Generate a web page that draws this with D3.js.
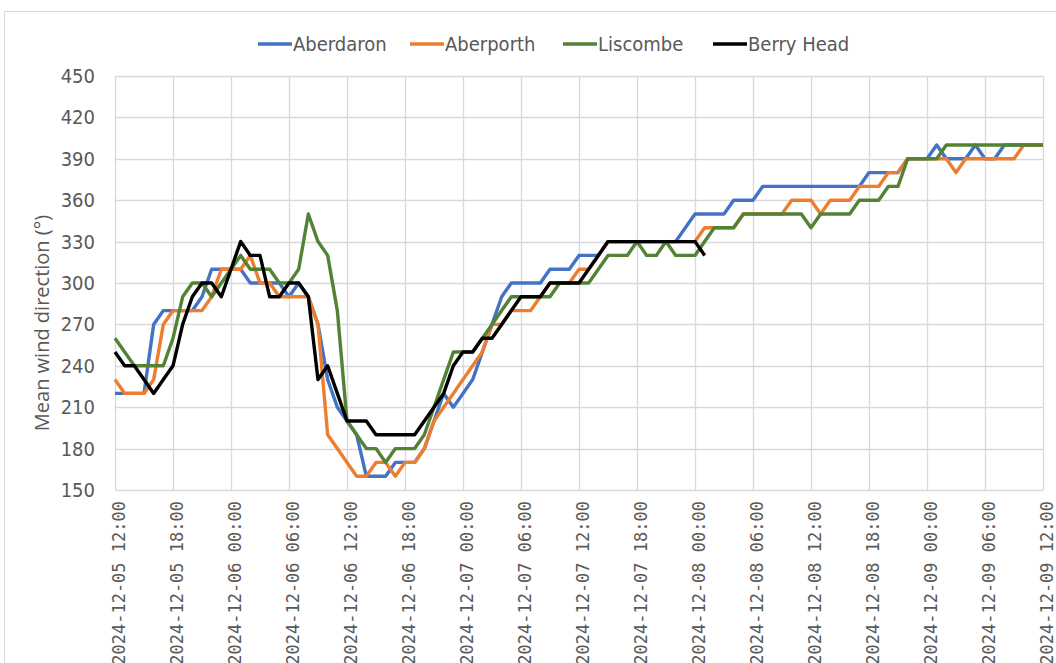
<!DOCTYPE html>
<html>
<head>
<meta charset="utf-8">
<style>
html, body { margin:0; padding:0; background:white; }
svg { display:block; }
.tick text { fill:#595959; }
</style>
</head>
<body>
<div id="chart"></div>
<script src="https://d3js.org/d3.v7.min.js"></script>
<script>
// hourly readings, first one at 2024-12-05 12:00 (UTC)
const startTime = Date.UTC(2024, 11, 5, 12);
const endTime = Date.UTC(2024, 11, 9, 12);

const seriesNames = ["Aberdaron", "Aberporth", "Liscombe", "Berry Head"];
const seriesColors = ["#4472C4", "#ED7D31", "#548235", "#000000"];

const aberdaron = [220,220,220,220,270,280,280,280,280,290,310,310,310,310,300,300,300,300,290,300,
  290,270,230,210,200,190,160,160,160,170,170,170,180,200,220,210,220,230,250,270,
  290,300,300,300,300,310,310,310,320,320,320,330,330,330,330,330,330,330,330,340,
  350,350,350,350,360,360,360,370,370,370,370,370,370,370,370,370,370,370,380,380,
  380,380,390,390,390,400,390,390,390,400,390,390,400,400,400,400,400];
const aberporth = [230,220,220,220,230,270,280,280,280,280,290,310,310,310,320,300,300,290,290,290,
  290,270,190,180,170,160,160,170,170,160,170,170,180,200,210,220,230,240,250,270,
  270,280,280,280,290,300,300,300,310,310,320,330,330,330,330,330,330,330,330,330,
  330,340,340,340,340,350,350,350,350,350,360,360,360,350,360,360,360,370,370,370,
  380,380,390,390,390,390,390,380,390,390,390,390,390,390,400,400,400];
const liscombe = [260,250,240,240,240,240,260,290,300,300,290,300,310,320,310,310,310,300,300,310,
  350,330,320,280,200,190,180,180,170,180,180,180,190,210,230,250,250,250,260,270,
  280,290,290,290,290,290,300,300,300,300,310,320,320,320,330,320,320,330,320,320,
  320,330,340,340,340,350,350,350,350,350,350,350,340,350,350,350,350,360,360,360,
  370,370,390,390,390,390,400,400,400,400,400,400,400,400,400,400,400];
const berryHead = [250,240,240,230,220,230,240,270,290,300,300,290,310,330,320,320,290,290,300,300,
  290,230,240,220,200,200,200,190,190,190,190,190,200,210,220,240,250,250,260,260,
  270,280,290,290,290,300,300,300,300,310,320,330,330,330,330,330,330,330,330,330,
  330,320];

const seriesValues = [aberdaron, aberporth, liscombe, berryHead];
const yTicks = [150,180,210,240,270,300,330,360,390,420,450];

const W = 1056, H = 663;
const plot = {left:115, right:1043, top:76, bottom:490};
const narrow = "'Liberation Sans Narrow','DejaVu Sans Condensed',sans-serif";

const svg = d3.select("#chart").append("svg")
  .attr("width", W).attr("height", H);

// chart area outline
svg.append("rect")
  .attr("x", 4.5).attr("y", 11.5)
  .attr("width", W + 20).attr("height", H + 20)
  .attr("fill", "white").attr("stroke", "#d9d9d9");

const x = d3.scaleUtc().domain([startTime, endTime]).range([plot.left, plot.right]);
const y = d3.scaleLinear().domain([150, 450]).range([plot.bottom, plot.top]);
const xTicks = d3.utcHour.every(6).range(new Date(startTime), new Date(endTime + 1));

// gridlines
svg.append("g")
  .selectAll("line.h").data(yTicks).join("line")
  .attr("x1", plot.left).attr("x2", plot.right)
  .attr("y1", d => Math.round(y(d)) + 0.5).attr("y2", d => Math.round(y(d)) + 0.5)
  .attr("stroke", "#d9d9d9").attr("stroke-width", 1.3);
svg.append("g")
  .selectAll("line.v").data(xTicks).join("line")
  .attr("x1", d => Math.round(x(d)) + 0.5).attr("x2", d => Math.round(x(d)) + 0.5)
  .attr("y1", plot.top).attr("y2", plot.bottom)
  .attr("stroke", "#d9d9d9").attr("stroke-width", 1.3);

// y axis labels
const yAxis = svg.append("g")
  .attr("transform", `translate(${plot.left},0)`)
  .call(d3.axisLeft(y).tickValues(yTicks).tickSize(0).tickPadding(20));
yAxis.select(".domain").remove();
yAxis.selectAll("text")
  .style("font-family", narrow)
  .style("font-size", "20px");

// x axis labels, rotated
const fmt = d3.utcFormat("%Y-%m-%d %H:%M");
const xAxis = svg.append("g")
  .attr("transform", `translate(0,${plot.bottom})`)
  .call(d3.axisBottom(x).tickValues(xTicks).tickFormat(fmt).tickSize(0));
xAxis.select(".domain").remove();
xAxis.selectAll("text")
  .attr("transform", "rotate(-90)")
  .attr("text-anchor", "end")
  .attr("x", -11).attr("y", 4).attr("dy", "0.35em")
  .style("font-family", "'DejaVu Sans Mono',monospace")
  .style("font-size", "17px");

// y title
svg.append("text")
  .attr("transform", `translate(42,${(plot.top + plot.bottom) / 2 + 40}) rotate(-90)`)
  .attr("text-anchor", "middle")
  .attr("dy", "0.35em")
  .attr("fill", "#595959")
  .style("font-family", "'Open Sans',sans-serif")
  .style("font-size", "20px")
  .text("Mean wind direction (°)");

// lines
const line = d3.line()
  .x((d, i) => x(startTime + i * 3600000))
  .y(d => y(d));
svg.append("g").selectAll("path").data(seriesValues).join("path")
  .attr("d", d => line(d))
  .attr("fill", "none")
  .attr("stroke", (d, i) => seriesColors[i])
  .attr("stroke-width", 3.4)
  .attr("stroke-linejoin", "round");

// legend
const legendX = [258, 410, 563, 713];
const legend = svg.append("g").selectAll("g").data(seriesNames).join("g")
  .attr("transform", (d, i) => `translate(${legendX[i]},44)`);
legend.append("line")
  .attr("x1", 0).attr("x2", 34)
  .attr("stroke", (d, i) => seriesColors[i])
  .attr("stroke-width", 3.4);
legend.append("text")
  .attr("x", 35).attr("dy", "0.35em")
  .attr("fill", "#595959")
  .style("font-family", narrow)
  .style("font-size", "20px")
  .text(d => d);
</script>
</body>
</html>
